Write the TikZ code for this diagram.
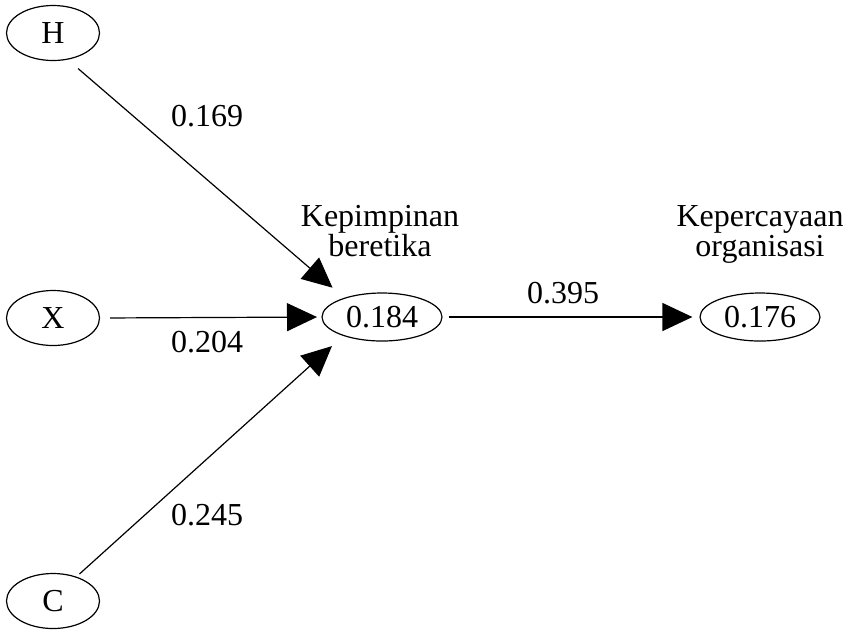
\documentclass[tikz,border=0pt]{standalone}
\usepackage{fontspec}
\setmainfont{Liberation Serif}
\usetikzlibrary{shapes.geometric,arrows.meta}
\begin{document}
\begin{tikzpicture}[x=0.5pt,y=-0.5pt]
            \tikzstyle{var node}=[ellipse,draw,line width=0.6pt,inner sep=0,minimum width=46.5pt,minimum height=27.5pt,font=\fontsize{16}{15}\selectfont]
            \tikzstyle{value node}=[var node,minimum width=60pt,minimum height=24pt]
            \tikzstyle{name text}=[align=center,inner sep=0,font=\fontsize{16}{15}\selectfont]
            \tikzstyle{coef}=[inner sep=0,font=\fontsize{16}{15}\selectfont]
            \tikzstyle{effect}=[line width=0.6pt,-{Triangle[length=15pt,width=14pt]}]

            \useasboundingbox (0,0) rectangle (852,629);

            \node(H)[var node] at (53,33){H};
            \node(X)[var node] at (53,318){X};
            \node(C)[var node] at (53,601){C};
            \node(kb)[value node] at (382,317){0.184};
            \node(kp)[value node] at (760,317){0.176};
            \node(kbname)[name text,anchor=base] at (380,256.7){Kepimpinan\\beretika};
            \node(kpname)[name text,anchor=base] at (760,256.7){Kepercayaan\\organisasi};

            \draw[effect,shorten <=6.8pt,shorten >=7.7pt] (H.-61) -- (kb.153);
            \draw[effect,shorten <=5pt,shorten >=2.2pt] (X.east) -- (kb.west);
            \draw[effect,shorten <=2pt,shorten >=7.6pt] (C.46) -- (kb.206);
            \draw[effect,shorten <=3pt,shorten >=3.5pt] (kb.east) -- (kp.west);

            \node(hkb)[coef] at (207,116){0.169};
            \node(xkb)[coef] at (207,342.5){0.204};
            \node(ckb)[coef] at (207,515){0.245};
            \node(kbkp)[coef] at (563,293){0.395};
\end{tikzpicture}
\end{document}
